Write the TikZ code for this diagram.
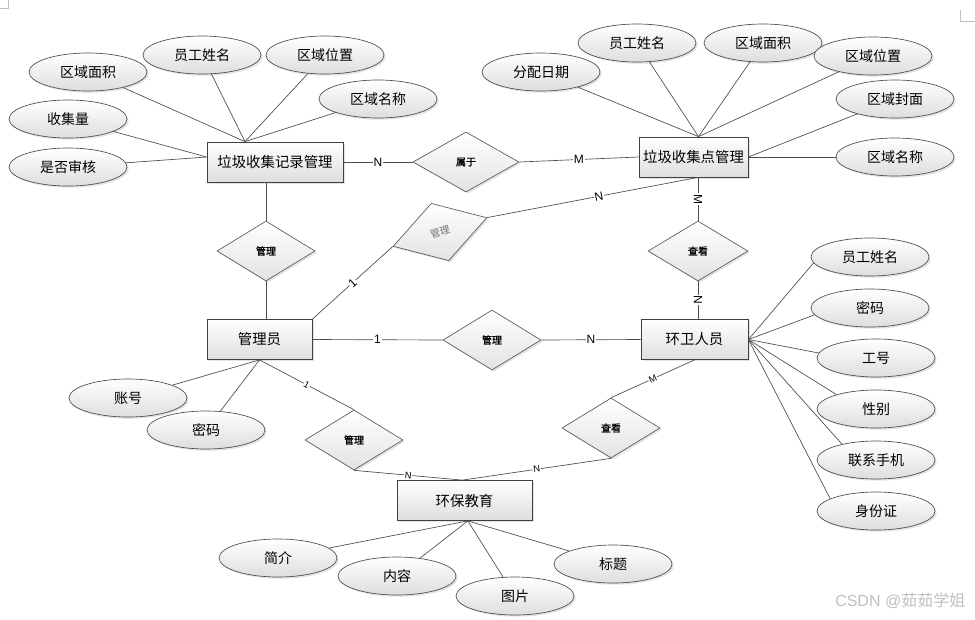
\documentclass[tikz,border=0pt]{standalone}
\usepackage{fontspec}
\newfontfamily\cjk{Noto Sans CJK SC}
\newfontfamily\cjkb[FakeBold=1.2]{Noto Sans CJK SC}
\newfontfamily\lab{Liberation Sans}
\usetikzlibrary{shapes.geometric,shadows,calc}
\begin{document}
\begin{tikzpicture}[x=0.75pt,y=-0.75pt,
  shd/.style={drop shadow={opacity=0.22,shadow xshift=1.3pt,shadow yshift=-1.3pt}},
  attr/.style={ellipse,draw=black!70,line width=0.5pt,top color=white,bottom color=black!13,
    minimum width=88.5pt,minimum height=28.5pt,inner sep=0pt,
    font=\cjk\fontsize{10.5}{12}\selectfont,shd},
  ent/.style={rectangle,draw=black!75,line width=0.6pt,top color=white,bottom color=black!13,
    minimum height=30pt,inner sep=0pt,font=\cjk\fontsize{10.8}{12}\selectfont,shd},
  rel/.style={diamond,draw=black!65,line width=0.5pt,top color=white,bottom color=black!11,
    minimum width=73.5pt,minimum height=45pt,inner sep=0pt,
    font=\cjkb\fontsize{7.5}{9}\selectfont,shd},
  lk/.style={draw=black!70,line width=0.5pt},
  lbl/.style={fill=white,inner sep=0.6pt,font=\lab\fontsize{9}{10}\selectfont},
  lbls/.style={fill=white,inner sep=0.5pt,font=\lab\fontsize{7}{8}\selectfont}
]
\useasboundingbox (0,0) rectangle (975,619);

% corner marks
\draw[black!25,line width=0.5pt] (0,8) -- (8,8) -- (8,0);
\draw[black!25,line width=0.5pt] (960,10) -- (960,21) -- (975,21);

% entities
\node[ent,minimum width=102pt] (r1) at (275,162) {垃圾收集记录管理};
\node[ent,minimum width=81.75pt] (r2) at (693.5,157) {垃圾收集点管理};
\node[ent,minimum width=78.75pt] (adm) at (259.5,339.5) {管理员};
\node[ent,minimum width=80.25pt] (hw) at (694.5,339.5) {环卫人员};
\node[ent,minimum width=101.25pt] (env) at (464.5,500.5) {环保教育};

% relationships
\node[rel,minimum width=79.5pt] (shuyu) at (466,162) {属于};
\node[rel] (gl1) at (266,251) {管理};
\node[rel,rotate=17,font=\cjk\fontsize{7.5}{9}\selectfont,text=black!55] (gl2) at (440,232) {管理};
\node[rel,minimum width=75pt] (ck1) at (698,251) {查看};
\node[rel] (gl3) at (492,340) {管理};
\node[rel] (gl4) at (354,440) {管理};
\node[rel] (ck2) at (611,428) {查看};

% attributes of r1
\node[attr] (a1) at (88,72) {区域面积};
\node[attr] (a2) at (202,55) {员工姓名};
\node[attr] (a3) at (325,55) {区域位置};
\node[attr] (a4) at (378,99) {区域名称};
\node[attr] (a5) at (68,119) {收集量};
\node[attr] (a6) at (68,167) {是否审核};
% attributes of r2
\node[attr] (b1) at (541,72) {分配日期};
\node[attr] (b2) at (637,43) {员工姓名};
\node[attr] (b3) at (763,43) {区域面积};
\node[attr] (b4) at (873,56) {区域位置};
\node[attr] (b5) at (895,99) {区域封面};
\node[attr] (b6) at (895,157) {区域名称};
% attributes of hw
\node[attr] (c1) at (870,257) {员工姓名};
\node[attr] (c2) at (870,308) {密码};
\node[attr] (c3) at (876,358) {工号};
\node[attr] (c4) at (876,409) {性别};
\node[attr] (c5) at (876,460) {联系手机};
\node[attr] (c6) at (876,511) {身份证};
% attributes of adm
\node[attr] (d1) at (128,398) {账号};
\node[attr] (d2) at (206,430) {密码};
% attributes of env
\node[attr] (e1) at (278,558) {简介};
\node[attr] (e2) at (397,576) {内容};
\node[attr] (e3) at (515,596) {图片};
\node[attr] (e4) at (613,564) {标题};

% anchor points
\coordinate (r1top) at ([xshift=-22.5pt]r1.north);
\coordinate (r1lft) at ([yshift=3.75pt]r1.west);
\coordinate (r2top) at ([xshift=3.75pt]r2.north);
\coordinate (envtop) at ([xshift=-1.5pt]env.north);
\coordinate (envbot) at ([xshift=2.5pt]env.south);

% attribute links
\foreach \n in {a1,a2,a3,a4} \draw[lk] (\n) -- (r1top);
\foreach \n in {a5,a6} \draw[lk] (\n) -- (r1lft);
\foreach \n in {b1,b2,b3,b4} \draw[lk] (\n) -- (r2top);
\foreach \n in {b5,b6} \draw[lk] (\n) -- (r2.east);
\foreach \n/\a in {c1/186,c2/187,c3/175,c4/160,c5/155,c6/165} \draw[lk] (\n.\a) -- (hw.east);
\foreach \n in {d1,d2} \draw[lk] (\n) -- (adm.south);
\foreach \n in {e1,e2,e3,e4} \draw[lk] (\n) -- (envbot);

% relationship links
\draw[lk] (r1.east) -- node[lbl]{N} (shuyu.west);
\draw[lk] (shuyu.east) -- node[lbl]{M} (r2.west);
\draw[lk] (gl1.north) -- (gl1 |- r1.south);
\draw[lk] (gl1.south) -- (gl1 |- adm.north);
\draw[lk] (adm.north east) -- node[lbl,sloped]{1} (gl2.west);
\draw[lk] (gl2.east) -- node[lbl,sloped,pos=0.53]{N} (ck1 |- r2.south);
\draw[lk] (ck1 |- r2.south) -- node[lbl,sloped]{M} (ck1.north);
\draw[lk] (ck1.south) -- node[lbl,sloped]{N} (ck1 |- hw.north);
\draw[lk] (adm.east) -- node[lbl]{1} (gl3.west);
\draw[lk] (gl3.east) -- node[lbl]{N} (hw.west);
\draw[lk] (adm.south) -- node[lbls,sloped]{1} (gl4.north);
\draw[lk] (gl4.south) -- node[lbls,sloped]{N} (envtop);
\draw[lk] (hw.south) -- node[lbls,sloped]{M} (ck2.north);
\draw[lk] (ck2.south) -- node[lbls,sloped]{N} (envtop);

% watermark
\node[font=\lab\fontsize{12}{14}\selectfont,text=black!25,anchor=east] (wm) at (970,601) {CSDN @{\cjk 茹茹学姐}};
\end{tikzpicture}
\end{document}
